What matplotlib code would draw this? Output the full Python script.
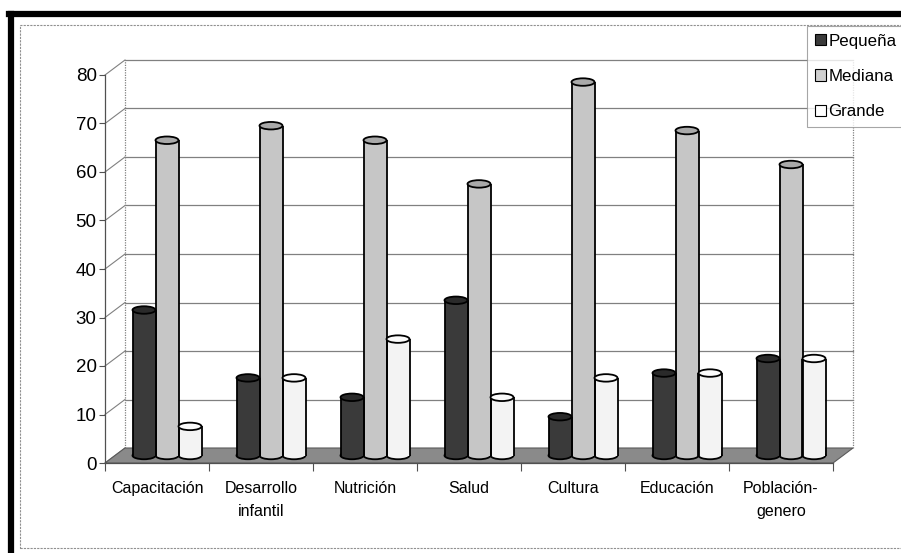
import matplotlib
matplotlib.use("Agg")
import matplotlib.pyplot as plt
import numpy as np
from matplotlib.patches import Ellipse, Polygon, Patch, Rectangle
from matplotlib.lines import Line2D
import matplotlib.transforms as mtransforms

categories = ["Capacitación", "Desarrollo\ninfantil", "Nutrición", "Salud",
              "Cultura", "Educación", "Población-\ngenero"]
series_names = ["Pequeña", "Mediana", "Grande"]
pequena = [30, 16, 12, 32, 8, 17, 20]
mediana = [65, 68, 65, 56, 77, 67, 60]
grande = [6, 16, 24, 12, 16, 17, 20]
yticks = [0, 10, 20, 30, 40, 50, 60, 70, 80]

plt.rcParams['font.family'] = ['Liberation Sans', 'DejaVu Sans']

W, H = 901, 553
fig = plt.figure(figsize=(W / 100, H / 100), dpi=100)
fig.patch.set_facecolor("white")

# front plane of the 3D box (pixels)
fx0, fx1, fy0, fy1 = 105, 833, 463, 75
ax = fig.add_axes([fx0 / W, (H - fy0) / H, (fx1 - fx0) / W, (fy0 - fy1) / H])
ax.set_facecolor("none")
n = len(categories)
ax.set_xlim(-0.5, n - 0.5)
ax.set_ylim(0, 80)

px_per_cat = (fx1 - fx0) / n
px_per_unit = (fy0 - fy1) / 80.0
depth_px = (20, 15)
dxb, dyb = depth_px[0] / px_per_cat, depth_px[1] / px_per_unit  # back wall offset

back_tr = ax.transData + mtransforms.ScaledTranslation(depth_px[0] / 100, depth_px[1] / 100, fig.dpi_scale_trans)
mid_tr = ax.transData + mtransforms.ScaledTranslation(depth_px[0] / 200, depth_px[1] / 200, fig.dpi_scale_trans)

grid_c = "#808080"
# back wall gridlines and side wall diagonals
for v in yticks[1:]:
    ax.plot([-0.5, n - 0.5], [v, v], color=grid_c, lw=0.9, transform=back_tr, clip_on=False, zorder=1)
for v in yticks:
    ax.plot([-0.5, -0.5 + dxb], [v, v + dyb], color=grid_c, lw=0.8, clip_on=False, zorder=1)
ax.plot([-0.5, -0.5], [0, 80], color=grid_c, lw=0.9, ls=(0, (1, 1)), transform=back_tr, clip_on=False, zorder=1)
ax.plot([n - 0.5, n - 0.5], [0, 80], color=grid_c, lw=0.9, ls=(0, (1, 1)), transform=back_tr, clip_on=False, zorder=1)

# floor
floor = Polygon([(-0.5, 0), (n - 0.5, 0), (n - 0.5 + dxb, dyb), (-0.5 + dxb, dyb)],
                closed=True, facecolor="#8a8a8a", edgecolor="#5a5a5a", lw=0.8, clip_on=False, zorder=2)
ax.add_patch(floor)

# bars (cylinders)
bw = 23 / px_per_cat
fills = ["#3a3a3a", "#c6c6c6", "#f3f3f3"]
caps = ["#2a2a2a", "#a9a9a9", "#fbfbfb"]
cap_h = 7.5 / px_per_unit
x = np.arange(n)
for i, (vals, fc, cc) in enumerate(zip([pequena, mediana, grande], fills, caps)):
    xs = x + (i - 1) * bw
    for xi, v in zip(xs, vals):
        ax.add_patch(Ellipse((xi, 0), bw, cap_h, facecolor=fc, edgecolor="black", lw=1.3,
                             transform=mid_tr, clip_on=False, zorder=3))
    ax.bar(xs, vals, width=bw, color=fc, edgecolor="none", transform=mid_tr, clip_on=False, zorder=4)
    ax.vlines(xs - bw / 2, 0, vals, color="black", lw=1.3, transform=mid_tr, clip_on=False, zorder=5)
    ax.vlines(xs + bw / 2, 0, vals, color="black", lw=1.3, transform=mid_tr, clip_on=False, zorder=5)
    for xi, v in zip(xs, vals):
        ax.add_patch(Ellipse((xi, v), bw, cap_h, facecolor=cc, edgecolor="black", lw=1.3,
                             transform=mid_tr, clip_on=False, zorder=6))

# axes styling
for s in ["top", "right"]:
    ax.spines[s].set_visible(False)
for s in ["left", "bottom"]:
    ax.spines[s].set_color("#505050")
    ax.spines[s].set_linewidth(0.9)
    ax.spines[s].set_zorder(2.5)
ax.set_yticks(yticks)
ax.set_yticklabels([str(v) for v in yticks], fontsize=13.5)
ax.tick_params(axis="y", length=4, width=0.8, color="#505050", pad=2)
ax.set_xticks(x)
ax.set_xticklabels(categories, fontsize=11.5, linespacing=1.65, va="top")
ax.tick_params(axis="x", which="major", length=0, pad=13)
ax.set_xticks(np.arange(-0.5, n, 1.0), minor=True)
ax.tick_params(axis="x", which="minor", length=6, width=0.8, color="#505050")

# legend
handles = [Patch(facecolor=fills[0], edgecolor="black", lw=0.8),
           Patch(facecolor="#d0d0d0", edgecolor="black", lw=0.8),
           Patch(facecolor="white", edgecolor="black", lw=0.8)]
leg = fig.legend(handles, series_names, loc="upper left",
                 bbox_to_anchor=(807 / W, 1 - 26 / H), bbox_transform=fig.transFigure,
                 fontsize=12.2, frameon=True, fancybox=False, borderaxespad=0,
                 handlelength=0.65, handleheight=0.65, handletextpad=0.15,
                 labelspacing=1.2, borderpad=0.45)
leg.get_frame().set_edgecolor("#909090")
leg.get_frame().set_linewidth(0.8)

# frames
fig.add_artist(Rectangle((20 / W, (H - 548) / H), 1.2, (548 - 25) / H, transform=fig.transFigure,
                         fill=False, edgecolor="#909090", lw=0.8, ls=(0, (2, 1))))
fig.add_artist(Line2D([11 / W, 11 / W], [0, 1 - 14 / H], color="black", lw=4.5, transform=fig.transFigure))
fig.add_artist(Line2D([9 / W, 1], [1 - 14 / H, 1 - 14 / H], color="black", lw=4.5, transform=fig.transFigure))

fig.savefig("out.png", dpi=100)
